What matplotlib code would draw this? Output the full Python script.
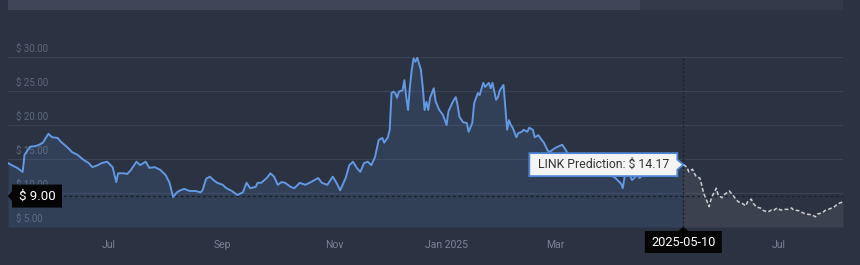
import numpy as np
import pandas as pd
import matplotlib
matplotlib.use("Agg")
import matplotlib.pyplot as plt
import matplotlib.dates as mdates
from matplotlib.patches import Polygon, Rectangle
from matplotlib.transforms import IdentityTransform

# chart data (day offsets from start date, price in USD)
START = pd.Timestamp("2024-05-07")
END = pd.Timestamp("2025-08-05")
hist_days = [0, 2, 5, 8, 9, 12, 15, 17, 19, 22, 24, 27, 29, 32, 35, 38, 41, 44, 46, 49,
             51, 54, 57, 59, 60, 63, 65, 67, 70, 72, 75, 77, 80, 83, 86, 88, 90, 92, 94, 96,
             99, 102, 105, 106, 108, 110, 112, 114, 117, 119, 122, 125, 128, 130, 132, 135,
             136, 138, 141, 143, 145, 147, 149, 151, 154, 156, 159, 162, 165, 167, 169, 171,
             174, 177, 179, 181, 184, 186, 188, 190, 192, 194, 196, 198, 200, 202, 204, 205,
             207, 208, 209, 210, 211, 212, 213, 215, 216, 217, 218, 219, 220, 221, 222, 223,
             225, 226, 227, 228, 229, 230, 232, 233, 235, 237, 239, 240, 242, 243, 244, 245,
             246, 248, 250, 251, 253, 254, 256, 257, 259, 260, 262, 263, 264, 265, 266, 267,
             268, 270, 271, 272, 273, 274, 275, 277, 278, 280, 281, 283, 284, 286, 287, 289,
             290, 292, 294, 295, 298, 302, 304, 306, 311, 314, 318, 323, 326, 331, 334, 335,
             336, 338, 340, 342, 343, 344, 347, 351, 354, 358, 362, 365, 368]
hist_price = [14.4, 14.1, 13.7, 13.1, 15.6, 16.8, 16.9, 17.1, 17.4, 18.7, 18.2, 18.1, 17.5,
              16.8, 16.0, 15.6, 14.9, 14.4, 13.8, 14.1, 14.4, 14.6, 13.8, 11.6, 12.9, 12.9,
              12.8, 13.4, 14.6, 14.1, 14.6, 13.7, 13.8, 13.4, 12.6, 11.5, 9.4, 10.1, 10.4,
              10.6, 10.3, 10.3, 10.1, 10.4, 12.1, 12.4, 11.9, 11.5, 11.2, 10.7, 10.3, 9.7,
              10.1, 11.5, 10.7, 10.9, 11.5, 11.5, 12.2, 12.9, 12.4, 11.2, 11.6, 11.5, 10.9,
              10.7, 11.5, 11.2, 11.6, 11.9, 12.2, 11.5, 11.2, 12.4, 11.5, 10.4, 12.2, 14.1,
              14.6, 13.7, 13.1, 14.4, 14.6, 14.1, 15.3, 17.8, 18.1, 17.4, 18.2, 19.3, 24.7,
              24.9, 24.7, 24.0, 24.9, 25.1, 26.6, 24.1, 22.2, 25.6, 28.1, 29.8, 29.3, 29.9,
              28.1, 25.6, 22.2, 23.4, 22.2, 24.0, 25.4, 23.5, 22.2, 21.5, 20.0, 22.0, 23.2,
              23.7, 24.1, 22.9, 21.2, 20.4, 20.3, 19.0, 20.3, 23.2, 24.7, 24.4, 26.2, 25.6,
              26.2, 25.4, 26.2, 24.9, 23.7, 24.1, 25.1, 25.9, 22.6, 19.3, 20.7, 20.0, 19.6,
              18.2, 18.8, 19.0, 19.3, 19.0, 19.6, 19.3, 18.2, 18.5, 18.1, 17.4, 16.3, 16.0,
              16.6, 17.1, 16.3, 15.2, 14.6, 15.0, 14.0, 13.6, 13.0, 12.2, 11.4, 10.7, 12.4,
              13.1, 11.9, 12.4, 13.1, 12.2, 12.8, 13.5, 14.0, 14.6, 15.0, 14.6, 14.17]
pred_days = [368, 370, 371, 373, 374, 375, 377, 378, 379, 381, 382, 383, 384, 386, 387, 389,
             390, 392, 393, 395, 396, 398, 400, 402, 403, 405, 406, 408, 410, 411, 414, 416,
             417, 419, 421, 423, 425, 427, 428, 431, 433, 435, 438, 440, 441, 444, 445, 447,
             450, 452, 453, 455]
pred_price = [14.17, 13.8, 13.1, 13.5, 12.9, 12.4, 12.2, 11.2, 10.0, 8.7, 8.0, 9.0, 9.7, 10.7,
              9.7, 9.3, 9.7, 10.1, 10.3, 9.7, 9.3, 8.7, 8.5, 8.1, 8.7, 9.1, 8.5, 7.9, 7.8, 7.5,
              7.2, 7.5, 7.4, 7.8, 7.5, 7.6, 7.6, 7.8, 7.5, 7.4, 7.1, 6.9, 6.8, 6.5, 6.9, 7.1,
              7.4, 7.6, 7.9, 8.4, 8.5, 8.7]
y_ticks = [5, 10, 15, 20, 25, 30]
x_ticks = ["2024-07-01", "2024-09-01", "2024-11-01", "2025-01-01", "2025-03-01",
           "2025-07-01"]
x_tick_labels = ["Jul", "Sep", "Nov", "Jan 2025", "Mar", "Jul"]
pred_date = "2025-05-10"
pred_value = 14.17
cursor_value = 9.55
cursor_label = "$ 9.00"

BG = "#2b3242"
FONT = ["Roboto", "DejaVu Sans"]

hist_x = START + pd.to_timedelta(hist_days, unit="D")
pred_x = START + pd.to_timedelta(pred_days, unit="D")

W, H = 860, 265
fig = plt.figure(figsize=(W / 100, H / 100), dpi=100, facecolor=BG)
ax = fig.add_axes([8 / W, 38 / H, 835 / W, 170 / H])
ax.set_facecolor(BG)
for s in ax.spines.values():
    s.set_visible(False)

ax.set_xlim(START, END)
ax.set_ylim(5, 30)

# grid + y labels
for v in y_ticks:
    ax.axhline(v, color="#3a4254" if v > 5 else "#454e62", lw=0.9, zorder=0.5)
    ax.annotate(f"$ {v:.2f}", xy=(0, v), xycoords=("axes fraction", "data"),
                xytext=(8, 3), textcoords="offset pixels", color="#5d687c",
                fontsize=7, family=FONT, va="bottom", ha="left", zorder=0.6)

# history
ax.fill_between(hist_x, hist_price, 5, color="#5b8fd9", alpha=0.14, lw=0, zorder=1)
ax.plot(hist_x, hist_price, color="#6398e3", lw=1.4, zorder=3)

# prediction
ax.fill_between(pred_x, pred_price, 5, color="#c8c8c8", alpha=0.1, lw=0, zorder=1)
ax.plot(pred_x, pred_price, color="#cfcfcf", lw=1.1, ls=(0, (2.5, 1.5)), zorder=3)

# crosshair
px = pd.Timestamp(pred_date)
ax.axvline(px, color="#1b202c", lw=1, ls=(0, (1.5, 1.5)), zorder=2)
ax.axhline(cursor_value, color="#1b202c", lw=1, ls=(0, (2, 2)), zorder=2)

ax.set_xticks(pd.to_datetime(x_ticks))
ax.set_xticklabels(x_tick_labels)
ax.tick_params(axis="x", length=0, pad=9, labelsize=7.5, labelcolor="#7a8497")
for t in ax.get_xticklabels():
    t.set_family(FONT)
ax.set_yticks([])

# top scrollbar
fig.patches.append(Rectangle((8 / W, 1 - 10 / H), 835 / W, 10 / H, transform=fig.transFigure,
                             facecolor="#333a4a", lw=0))
fig.patches.append(Rectangle((8 / W, 1 - 10 / H), 632 / W, 10 / H, transform=fig.transFigure,
                             facecolor="#3e4658", lw=0))


def callout(anchor, side, w, h, gap, fc, ec, text, tc, size=8.8):
    ax_, ay_ = anchor
    p = 5
    if side == "left":
        x0, x1 = ax_ + gap, ax_ + gap + w
        y0, y1 = ay_ - h / 2, ay_ + h / 2
        pts = [(ax_, ay_), (x0, ay_ + p), (x0, y1), (x1, y1), (x1, y0), (x0, y0), (x0, ay_ - p)]
    elif side == "right":
        x1, x0 = ax_ - gap, ax_ - gap - w
        y0, y1 = ay_ - h / 2, ay_ + h / 2
        pts = [(ax_, ay_), (x1, ay_ - p), (x1, y0), (x0, y0), (x0, y1), (x1, y1), (x1, ay_ + p)]
    else:
        x0, x1 = ax_ - w / 2, ax_ + w / 2
        y1, y0 = ay_ - gap, ay_ - gap - h
        pts = [(ax_, ay_), (ax_ + p, y1), (x1, y1), (x1, y0), (x0, y0), (x0, y1), (ax_ - p, y1)]
    poly = Polygon(pts, closed=True, facecolor=fc, edgecolor=ec, lw=1.3 if ec else 0,
                   transform=IdentityTransform(), zorder=10)
    fig.patches.append(poly)
    fig.text((x0 + x1) / 2 / W, (y0 + y1) / 2 / H, text, color=tc, fontsize=size,
             family=FONT, ha="center", va="center", zorder=11)


fig.canvas.draw()
to_px = ax.transData.transform
a_pred = to_px((mdates.date2num(px), pred_value))
a_cur = to_px((mdates.date2num(START), cursor_value))
a_date = to_px((mdates.date2num(px), 5))

callout(a_pred, "right", 148, 23, 6, "#f4f4f4", "#4f86d6", f"LINK Prediction: $ {pred_value:.2f}", "#333333")
callout(a_cur, "left", 50, 23, 4, "#050505", None, cursor_label, "white", size=9.5)
callout(a_date, "top", 77, 22, 4, "#050505", None, pred_date, "white", size=9.2)

fig.savefig("out.png", dpi=100, facecolor=BG)
